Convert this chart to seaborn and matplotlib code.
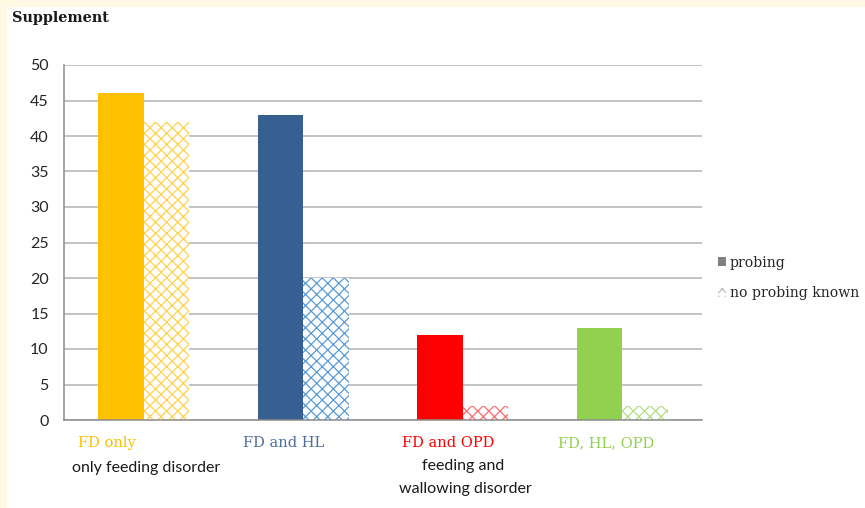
import matplotlib
matplotlib.use("Agg")
import matplotlib.pyplot as plt
import matplotlib.patches as mpatches
import pandas as pd
import seaborn as sns

# Data
categories = ["FD only", "FD and HL", "FD and OPD", "FD, HL, OPD"]
sub_labels = ["only feeding disorder", "", "feeding and\nwallowing disorder", ""]
series = ["probing", "no probing known"]
probing = [46, 43, 12, 13]
no_probing = [42, 20, 2, 2]
bar_colors = ["#FFC000", "#366092", "#FF0000", "#92D050"]
hatch_colors = ["#FFD24D", "#5B9BD5", "#FF6B6B", "#B4DE86"]
label_colors = ["#FFC000", "#4F6FA0", "#FF0000", "#92D050"]

df = pd.DataFrame({
    "category": categories * 2,
    "series": [series[0]] * 4 + [series[1]] * 4,
    "value": probing + no_probing,
})

sns.set_style("white")
plt.rcParams["font.family"] = ["Lato", "DejaVu Sans"]
plt.rcParams["hatch.linewidth"] = 0.9

fig = plt.figure(figsize=(8.65, 5.08), dpi=100)
fig.patch.set_facecolor("#FFF9E3")
# white panel behind the chart
fig.patches.append(mpatches.Rectangle((7 / 865, 0), 1, 1 - 7 / 508, transform=fig.transFigure,
                                      facecolor="white", edgecolor="none", zorder=-10))

ax = fig.add_axes([64 / 865, 1 - 420 / 508, (702 - 64) / 865, (420 - 65) / 508])
ax.set_facecolor("none")

sns.barplot(data=df, x="category", y="value", hue="series", order=categories,
            hue_order=series, width=0.57, gap=0, dodge=True, ax=ax, legend=False,
            err_kws={"linewidth": 0})

for bar, c in zip(ax.containers[0], bar_colors):
    bar.set_facecolor(c)
    bar.set_edgecolor("none")
    bar.set_linewidth(0)
for bar, c in zip(ax.containers[1], hatch_colors):
    bar.set_facecolor("white")
    bar.set_edgecolor(c)
    bar.set_hatch("xxx")
    bar.set_linewidth(0)

ax.set_xlim(-0.5, 3.5)
ax.set_ylim(0, 50)
ax.set_yticks(range(0, 51, 5))
ax.yaxis.grid(True, color="#B3B3B3", linewidth=1.1)
ax.set_axisbelow(True)
ax.tick_params(axis="y", length=5, color="#B3B3B3", labelsize=11.5, labelcolor="#262626", pad=6)
ax.set_xticks([-0.5, 0.5, 1.5, 2.5, 3.5])
ax.set_xticklabels([])
ax.tick_params(axis="x", length=5, color="#8C8C8C", direction="out")
ax.set_xlabel("")
ax.set_ylabel("")
for s in ["top", "right"]:
    ax.spines[s].set_visible(False)
for s in ["left", "bottom"]:
    ax.spines[s].set_color("#8C8C8C")
    ax.spines[s].set_linewidth(1.1)
ax.spines["bottom"].set_zorder(5)

# Category labels
serif = ["DejaVu Serif"]
label_x = [-0.41, 0.62, 1.62, 2.6]
trans = ax.get_xaxis_transform()
for i, (name, col) in enumerate(zip(categories, label_colors)):
    ax.text(label_x[i], -0.065, name, transform=trans, ha="left", va="center",
            color=col, fontsize=10.5, family=serif)
ax.text(-0.45, -0.135, sub_labels[0], transform=trans, ha="left", va="center",
        color="#1A1A1A", fontsize=11.5)
first, second = sub_labels[2].split("\n")
ax.text(2.0, -0.13, first, transform=trans, ha="center", va="center",
        color="#1A1A1A", fontsize=11.5)
ax.text(1.6, -0.195, second, transform=trans, ha="left", va="center",
        color="#1A1A1A", fontsize=11.5)

# Title
fig.text(12 / 865, 1 - 18 / 508, "Supplement", ha="left", va="center",
         fontsize=10.4, fontweight="bold", family=serif, color="#1A1A1A")

# Legend
handles = [
    mpatches.Patch(facecolor="#808080", edgecolor="none", label=series[0]),
    mpatches.Patch(facecolor="white", edgecolor="#BFBFBF", hatch="xxx", linewidth=0, label=series[1]),
]
fig.legend(handles=handles, loc="upper left", bbox_to_anchor=(712 / 865, 1 - 250 / 508),
           frameon=False, prop={"family": serif, "size": 10.1}, handlelength=0.6,
           handleheight=0.6, handletextpad=0.25, labelspacing=1.2, borderaxespad=0)

fig.savefig("out.png", dpi=100, facecolor=fig.get_facecolor())
